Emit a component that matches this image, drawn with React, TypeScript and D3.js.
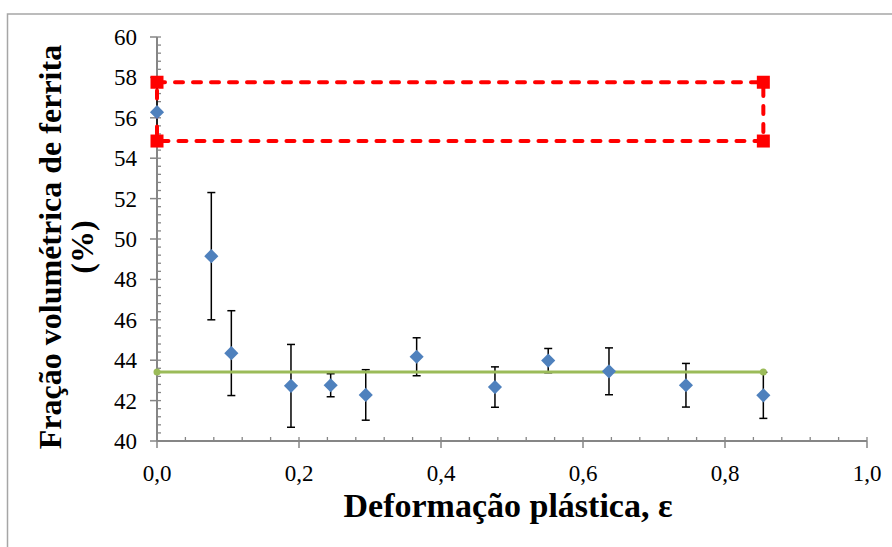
import React, { useEffect, useRef } from "react";
import * as d3 from "d3";

// measured points (deformation vs ferrite fraction) with error bar half-widths
const strain = [0.0, 0.0765, 0.1047, 0.1887, 0.2446, 0.294, 0.3657, 0.476, 0.551, 0.6366, 0.745, 0.854];
const ferrite = [56.28, 49.15, 44.35, 42.73, 42.76, 42.28, 44.17, 42.67, 43.98, 43.45, 42.76, 42.26];
const errors = [1.3, 3.15, 2.1, 2.05, 0.57, 1.25, 0.94, 1.0, 0.6, 1.16, 1.08, 1.14];

// mean line
const meanX = [0.0, 0.854];
const meanY = [43.42, 43.42];

// reference band (dashed rectangle)
const bandX = [0.0, 0.854, 0.854, 0.0, 0.0];
const bandY = [57.76, 57.76, 54.85, 54.85, 57.76];

const xTicks = [0, 0.2, 0.4, 0.6, 0.8, 1.0];
const yTicks = [40, 42, 44, 46, 48, 50, 52, 54, 56, 58, 60];

const W = 892;
const H = 547;
const font = "'Liberation Serif', 'Times New Roman', serif";
const axisGray = "#868686";

const App = () => {
  const ref = useRef<SVGGElement>(null);

  useEffect(() => {
    const g = d3.select(ref.current);
    g.selectAll("*").remove();

    const x = d3.scaleLinear().domain([0, 1]).range([157, 867]);
    const y = d3.scaleLinear().domain([40, 60]).range([441, 37]);

    // chart frame
    g.append("rect")
      .attr("x", 7.5)
      .attr("y", 14)
      .attr("width", W)
      .attr("height", H)
      .attr("fill", "none")
      .attr("stroke", "#a6a6a6")
      .attr("stroke-width", 1.5);

    // minor ticks (inside)
    const xMinor = d3.range(0, 1.0001, 0.04);
    g.selectAll("line.xminor")
      .data(xMinor)
      .enter()
      .append("line")
      .attr("x1", d => x(d))
      .attr("x2", d => x(d))
      .attr("y1", 441)
      .attr("y2", 437)
      .attr("stroke", axisGray)
      .attr("stroke-width", 1.3);

    const yMinor = d3.range(40, 60.001, 0.4);
    g.selectAll("line.yminor")
      .data(yMinor)
      .enter()
      .append("line")
      .attr("x1", 157)
      .attr("x2", 161)
      .attr("y1", d => y(d))
      .attr("y2", d => y(d))
      .attr("stroke", axisGray)
      .attr("stroke-width", 1.3);

    // major ticks (outside)
    g.selectAll("line.xmajor")
      .data(xTicks)
      .enter()
      .append("line")
      .attr("x1", d => x(d))
      .attr("x2", d => x(d))
      .attr("y1", 441)
      .attr("y2", 448)
      .attr("stroke", axisGray)
      .attr("stroke-width", 1.5);

    g.selectAll("line.ymajor")
      .data(yTicks)
      .enter()
      .append("line")
      .attr("x1", 150)
      .attr("x2", 157)
      .attr("y1", d => y(d))
      .attr("y2", d => y(d))
      .attr("stroke", axisGray)
      .attr("stroke-width", 1.5);

    // axis lines
    g.append("line")
      .attr("x1", 157).attr("x2", 867)
      .attr("y1", 441).attr("y2", 441)
      .attr("stroke", axisGray).attr("stroke-width", 2);
    g.append("line")
      .attr("x1", 157).attr("x2", 157)
      .attr("y1", 37).attr("y2", 441)
      .attr("stroke", axisGray).attr("stroke-width", 2);

    // tick labels
    g.selectAll("text.xlab")
      .data(xTicks)
      .enter()
      .append("text")
      .attr("x", d => x(d))
      .attr("y", 481)
      .attr("text-anchor", "middle")
      .attr("font-family", font)
      .attr("font-size", 23)
      .text(d => d3.format(".1f")(d).replace(".", ","));

    g.selectAll("text.ylab")
      .data(yTicks)
      .enter()
      .append("text")
      .attr("x", 137)
      .attr("y", d => y(d) + 8)
      .attr("text-anchor", "end")
      .attr("font-family", font)
      .attr("font-size", 23)
      .text(d => d);

    // axis titles
    g.append("text")
      .attr("x", 508)
      .attr("y", 517)
      .attr("text-anchor", "middle")
      .attr("font-family", font)
      .attr("font-size", 34)
      .attr("font-weight", "bold")
      .text("Deformação plástica, ε");

    const yt = g.append("text")
      .attr("transform", "translate(61,247) rotate(-90)")
      .attr("text-anchor", "middle")
      .attr("font-family", font)
      .attr("font-size", 32)
      .attr("font-weight", "bold");
    yt.append("tspan").attr("x", 0).attr("y", 0).text("Fração volumétrica de ferrita");
    yt.append("tspan").attr("x", 0).attr("y", 32).text("(%)");

    const pts = strain.map((s, i) => ({ s, v: ferrite[i], e: errors[i] }));

    // error bars
    const eb = g.selectAll("g.err").data(pts).enter().append("g");
    eb.append("line")
      .attr("x1", d => x(d.s)).attr("x2", d => x(d.s))
      .attr("y1", d => y(d.v - d.e)).attr("y2", d => y(d.v + d.e))
      .attr("stroke", "#000").attr("stroke-width", 1.5);
    [-1, 1].forEach(sign => {
      eb.append("line")
        .attr("x1", d => x(d.s) - 4).attr("x2", d => x(d.s) + 4)
        .attr("y1", d => y(d.v + sign * d.e)).attr("y2", d => y(d.v + sign * d.e))
        .attr("stroke", "#000").attr("stroke-width", 1.5);
    });

    // dashed reference band
    const band = bandX.map((bx, i) => [bx, bandY[i]] as [number, number]);
    g.append("path")
      .attr("d", d3.line().x(d => x(d[0])).y(d => y(d[1]))(band))
      .attr("fill", "none")
      .attr("stroke", "#ff0000")
      .attr("stroke-width", 4)
      .attr("stroke-dasharray", "8,10")
      .attr("stroke-linecap", "round");
    g.selectAll("rect.corner")
      .data(band.slice(0, 4))
      .enter()
      .append("rect")
      .attr("x", d => x(d[0]) - 6.5)
      .attr("y", d => y(d[1]) - 6.5)
      .attr("width", 13)
      .attr("height", 13)
      .attr("fill", "#ff0000");

    // mean line
    const mean = meanX.map((mx, i) => [mx, meanY[i]] as [number, number]);
    g.append("path")
      .attr("d", d3.line().x(d => x(d[0])).y(d => y(d[1]))(mean))
      .attr("fill", "none")
      .attr("stroke", "#9bbb59")
      .attr("stroke-width", 3);
    g.selectAll("circle.mean")
      .data(mean)
      .enter()
      .append("circle")
      .attr("cx", d => x(d[0]))
      .attr("cy", d => y(d[1]))
      .attr("r", 3.5)
      .attr("fill", "#9bbb59");

    // diamonds
    g.selectAll("path.pt")
      .data(pts)
      .enter()
      .append("path")
      .attr("d", d3.symbol().type(d3.symbolSquare).size(100)())
      .attr("transform", d => `translate(${x(d.s)},${y(d.v)}) rotate(45)`)
      .attr("fill", "#4f81bd");
  }, []);

  return (
    <svg
      width={W}
      height={H}
      style={{ position: "absolute", left: 0, top: 0, background: "#fff" }}
    >
      <g ref={ref} />
    </svg>
  );
};

export default App;
